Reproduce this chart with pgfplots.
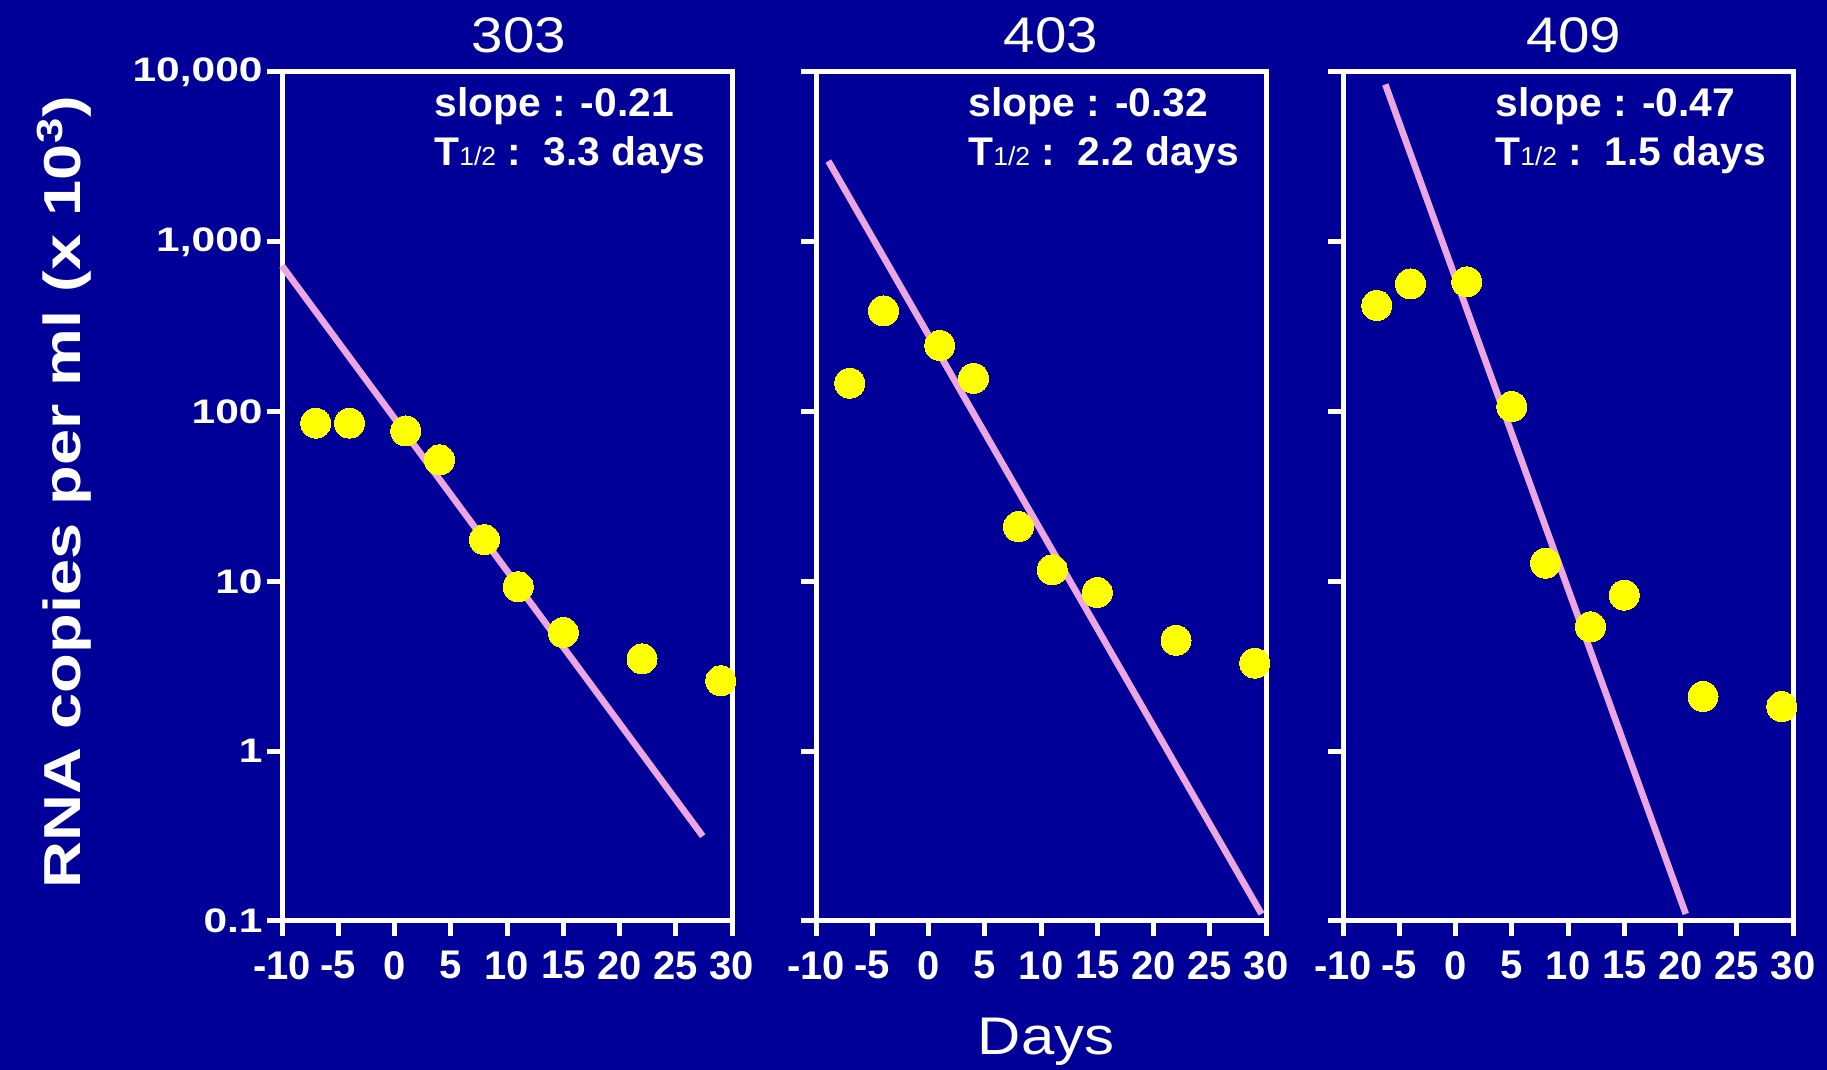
\documentclass[border=0pt]{standalone}
\usepackage{fontspec}
\setmainfont{Liberation Sans}
\newfontfamily\wideb[FakeStretch=1.25]{Liberation Sans}
\newfontfamily\annf[FakeStretch=1.02]{Liberation Sans}
\newfontfamily\ttlf[FakeStretch=1.13]{Liberation Sans}
\usepackage{pgfplots}
\pgfplotsset{compat=1.18}
\definecolor{bg}{RGB}{0,0,152}
\definecolor{pinkline}{RGB}{236,166,226}
\definecolor{dotc}{RGB}{255,255,0}
\tikzset{
mydots/.style={only marks, mark=*, mark size=7.5pt, mark options={fill=dotc, draw=dotc, line width=0pt}},
myfit/.style={pinkline, line width=3.3pt},
myann/.style={anchor=base west, text=white, font=\annf\bfseries\fontsize{20}{20}\selectfont, inner sep=0pt},
myttl/.style={anchor=base, text=white, font=\ttlf\fontsize{25}{25}\selectfont, inner sep=0pt},
}
\newcommand{\thalf}{T{\mdseries\fontsize{13}{13}\selectfont 1/2}}
\begin{document}
\begin{tikzpicture}
\fill[bg] (0,0) rectangle (913.5pt,535pt);

% Panel 303
\begin{axis}[scale only axis, width=225pt, height=424.5pt,
  anchor=south west, at={(141pt,74.5pt)},
  xmin=-10, xmax=30, ymode=log, ymin=0.1, ymax=10000,
  xtick={-10,-5,0,5,10,15,20,25,30},
  xticklabels={-10,-5,0,5,10,15,20,25,30},
  ytick={0.1,1,10,100,1000,10000},
  yticklabels={0.1,1,10,100,{1,000},{10,000}},
  yminorticks=false,
  tick pos=left, tick align=outside,
  major tick length=7.5pt,
  every tick/.append style={white, line width=2.5pt},
  axis line style={white, line width=2.5pt},
  xticklabel style={font=\bfseries\fontsize{20}{20}\selectfont, text=white, inner sep=1pt, yshift=-6.5pt},
  yticklabel style={font=\wideb\bfseries\fontsize{17}{17}\selectfont, text=white, inner sep=2pt},
  clip=false]
\addplot[mydots] coordinates {(-7,85.5) (-4,85.5) (1,77) (4,52) (8,17.6) (11,9.3) (15,5.0) (22,3.5) (29,2.6)};
\addplot[myfit, no marks] coordinates {(-10,722) (27.4,0.316)};
\node[myttl, yshift=9.8pt, xshift=6pt] at (rel axis cs:0.5,1) {303};
\node[myann, xshift=76pt, yshift=-22.25pt] at (rel axis cs:0,1) {slope : -0.21};
\node[myann, xshift=76pt, yshift=-46.75pt] at (rel axis cs:0,1) {\thalf\ :\ \ 3.3 days};
\end{axis}

% Panel 403
\begin{axis}[scale only axis, width=225pt, height=424.5pt,
  anchor=south west, at={(408pt,74.5pt)},
  xmin=-10, xmax=30, ymode=log, ymin=0.1, ymax=10000,
  xtick={-10,-5,0,5,10,15,20,25,30},
  xticklabels={-10,-5,0,5,10,15,20,25,30},
  ytick={0.1,1,10,100,1000,10000},
  yticklabels={},
  yminorticks=false,
  tick pos=left, tick align=outside,
  major tick length=7.5pt,
  every tick/.append style={white, line width=2.5pt},
  axis line style={white, line width=2.5pt},
  xticklabel style={font=\bfseries\fontsize{20}{20}\selectfont, text=white, inner sep=1pt, yshift=-6.5pt},
  clip=false]
\addplot[mydots] coordinates {(-7,147) (-4,392) (1,245) (4,157) (8,21) (11,11.7) (15,8.6) (22,4.5) (29,3.3)};
\addplot[myfit, no marks] coordinates {(-8.9,2990) (29.6,0.11)};
\node[myttl, yshift=9.8pt, xshift=5pt] at (rel axis cs:0.5,1) {403};
\node[myann, xshift=76pt, yshift=-22.25pt] at (rel axis cs:0,1) {slope : -0.32};
\node[myann, xshift=76pt, yshift=-46.75pt] at (rel axis cs:0,1) {\thalf\ :\ \ 2.2 days};
\end{axis}

% Panel 409
\begin{axis}[scale only axis, width=225pt, height=424.5pt,
  anchor=south west, at={(671.5pt,74.5pt)},
  xmin=-10, xmax=30, ymode=log, ymin=0.1, ymax=10000,
  xtick={-10,-5,0,5,10,15,20,25,30},
  xticklabels={-10,-5,0,5,10,15,20,25,30},
  ytick={0.1,1,10,100,1000,10000},
  yticklabels={},
  yminorticks=false,
  tick pos=left, tick align=outside,
  major tick length=7.5pt,
  every tick/.append style={white, line width=2.5pt},
  axis line style={white, line width=2.5pt},
  xticklabel style={font=\bfseries\fontsize{20}{20}\selectfont, text=white, inner sep=1pt, yshift=-6.5pt},
  clip=false]
\addplot[mydots] coordinates {(-7,422) (-4,565) (1,581) (5,107) (8,12.8) (12,5.4) (15,8.3) (22,2.1) (29,1.83)};
\addplot[myfit, no marks] coordinates {(-6.24,8450) (20.47,0.11)};
\node[myttl, yshift=9.8pt, xshift=3pt] at (rel axis cs:0.5,1) {409};
\node[myann, xshift=76pt, yshift=-22.25pt] at (rel axis cs:0,1) {slope : -0.47};
\node[myann, xshift=76pt, yshift=-46.75pt] at (rel axis cs:0,1) {\thalf\ :\ \ 1.5 days};
\end{axis}

\node[rotate=90, text=white, font=\wideb\bfseries\fontsize{26}{26}\selectfont, inner sep=0pt] at (32pt,289pt) {RNA copies per ml (x 10\textsuperscript{3})};
\node[anchor=base, text=white, font=\ttlf\fontsize{26.5}{26.5}\selectfont, inner sep=0pt] at (523pt,7.5pt) {Days};

\pgfresetboundingbox
\path[use as bounding box] (0,0) rectangle (913.5pt,535pt);
\end{tikzpicture}
\end{document}
